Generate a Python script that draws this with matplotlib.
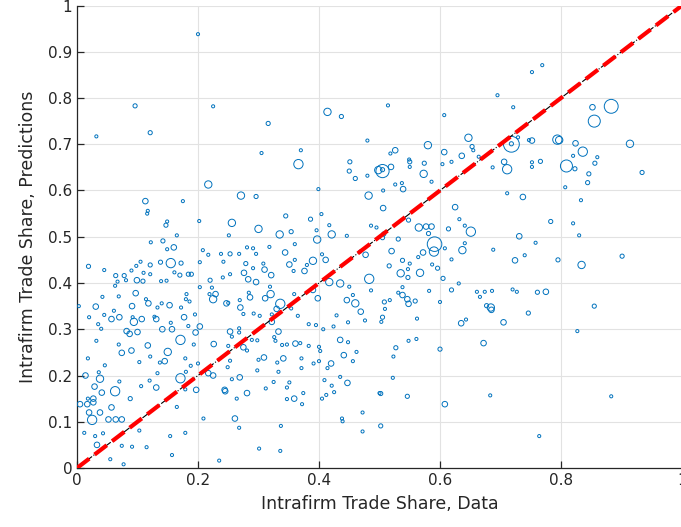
import numpy as np
import matplotlib
matplotlib.use("Agg")
import matplotlib.pyplot as plt

# intrafirm trade share: data (x) vs model predictions (y), grouped by marker weight
x_w1 = [0.200, 0.225, 0.032, 0.480, 0.305, 0.370, 0.695, 0.514, 0.721, 0.607, 0.518, 0.655, 0.729, 0.747, 0.664,
        0.549, 0.752, 0.769, 0.820, 0.860, 0.752, 0.752, 0.807, 0.833, 0.820, 0.830, 0.758, 0.740, 0.827, 0.883,
        0.764, 0.503, 0.562, 0.643, 0.548, 0.561, 0.523, 0.522, 0.683, 0.550, 0.604, 0.619, 0.687, 0.526, 0.537,
        0.506, 0.586, 0.711, 0.632, 0.641, 0.495, 0.641, 0.608, 0.564, 0.688, 0.550, 0.587, 0.619, 0.547, 0.631,
        0.538, 0.582, 0.531, 0.517, 0.600, 0.509, 0.661, 0.674, 0.686, 0.666, 0.720, 0.727, 0.480, 0.399, 0.404,
        0.417, 0.396, 0.486, 0.446, 0.251, 0.360, 0.318, 0.291, 0.281, 0.268, 0.296, 0.405, 0.360, 0.308, 0.291,
        0.380, 0.358, 0.253, 0.319, 0.450, 0.468, 0.486, 0.456, 0.284, 0.269, 0.359, 0.354, 0.250, 0.175, 0.117,
        0.116, 0.149, 0.202, 0.165, 0.122, 0.149, 0.208, 0.217, 0.238, 0.242, 0.203, 0.105, 0.098, 0.090, 0.045,
        0.081, 0.067, 0.110, 0.121, 0.139, 0.148, 0.161, 0.241, 0.063, 0.203, 0.223, 0.219, 0.181, 0.042, 0.069,
        0.114, 0.180, 0.186, 0.140, 0.003, 0.133, 0.172, 0.061, 0.020, 0.045, 0.092, 0.128, 0.195, 0.155, 0.035,
        0.040, 0.184, 0.032, 0.069, 0.018, 0.121, 0.137, 0.103, 0.179, 0.200, 0.193, 0.046, 0.036, 0.133, 0.070,
        0.120, 0.180, 0.188, 0.106, 0.179, 0.018, 0.165, 0.209, 0.012, 0.030, 0.043, 0.103, 0.154, 0.179, 0.074,
        0.091, 0.115, 0.157, 0.055, 0.077, 0.235, 0.429, 0.476, 0.448, 0.424, 0.395, 0.383, 0.407, 0.448, 0.400,
        0.402, 0.383, 0.347, 0.339, 0.369, 0.462, 0.456, 0.414, 0.400, 0.391, 0.371, 0.371, 0.331, 0.300, 0.333,
        0.298, 0.435, 0.421, 0.412, 0.425, 0.405, 0.438, 0.439, 0.472, 0.472, 0.409, 0.351, 0.347, 0.374, 0.347,
        0.372, 0.325, 0.312, 0.264, 0.268, 0.337, 0.301, 0.336, 0.256, 0.326, 0.328, 0.298, 0.281, 0.289, 0.268,
        0.256, 0.250, 0.253, 0.249, 0.275, 0.292, 0.302, 0.322, 0.365, 0.268, 0.500]
y_w1 = [0.938, 0.782, 0.717, 0.708, 0.681, 0.687, 0.806, 0.784, 0.780, 0.763, 0.680, 0.687, 0.715, 0.709, 0.673,
        0.667, 0.856, 0.871, 0.675, 0.672, 0.661, 0.651, 0.607, 0.579, 0.529, 0.503, 0.487, 0.460, 0.296, 0.155,
        0.069, 0.316, 0.323, 0.321, 0.275, 0.279, 0.241, 0.195, 0.157, 0.651, 0.657, 0.662, 0.650, 0.613, 0.616,
        0.600, 0.619, 0.594, 0.538, 0.524, 0.520, 0.486, 0.475, 0.456, 0.472, 0.442, 0.440, 0.451, 0.430, 0.399,
        0.391, 0.383, 0.379, 0.363, 0.359, 0.344, 0.381, 0.381, 0.383, 0.370, 0.386, 0.381, 0.632, 0.603, 0.549,
        0.525, 0.514, 0.524, 0.502, 0.503, 0.484, 0.478, 0.475, 0.477, 0.463, 0.463, 0.462, 0.450, 0.442, 0.432,
        0.439, 0.426, 0.419, 0.392, 0.392, 0.468, 0.384, 0.374, 0.379, 0.363, 0.376, 0.345, 0.357, 0.577, 0.556,
        0.550, 0.533, 0.534, 0.503, 0.488, 0.473, 0.471, 0.461, 0.463, 0.446, 0.445, 0.446, 0.437, 0.427, 0.428,
        0.406, 0.403, 0.422, 0.419, 0.404, 0.405, 0.423, 0.412, 0.394, 0.391, 0.390, 0.376, 0.376, 0.370, 0.371,
        0.365, 0.365, 0.360, 0.356, 0.350, 0.347, 0.347, 0.340, 0.326, 0.331, 0.326, 0.327, 0.332, 0.314, 0.311,
        0.301, 0.307, 0.275, 0.267, 0.237, 0.241, 0.228, 0.229, 0.237, 0.226, 0.267, 0.222, 0.207, 0.205, 0.187,
        0.189, 0.208, 0.221, 0.177, 0.170, 0.150, 0.132, 0.107, 0.076, 0.069, 0.075, 0.081, 0.069, 0.076, 0.048,
        0.046, 0.045, 0.028, 0.019, 0.008, 0.016, 0.330, 0.319, 0.315, 0.306, 0.309, 0.311, 0.300, 0.272, 0.262,
        0.253, 0.264, 0.267, 0.266, 0.270, 0.251, 0.231, 0.216, 0.231, 0.226, 0.237, 0.216, 0.228, 0.234, 0.208,
        0.211, 0.197, 0.178, 0.158, 0.164, 0.150, 0.107, 0.101, 0.120, 0.079, 0.190, 0.185, 0.174, 0.162, 0.149,
        0.138, 0.186, 0.172, 0.150, 0.087, 0.091, 0.042, 0.037, 0.192, 0.283, 0.275, 0.276, 0.254, 0.277, 0.293,
        0.284, 0.264, 0.232, 0.218, 0.333, 0.334, 0.329, 0.332, 0.329, 0.302, 0.162]

x_w2 = [0.096, 0.121, 0.437, 0.316, 0.653, 0.718, 0.766, 0.823, 0.856, 0.846, 0.844, 0.934, 0.783, 0.795, 0.901,
        0.761, 0.855, 0.746, 0.505, 0.527, 0.600, 0.502, 0.546, 0.502, 0.505, 0.550, 0.574, 0.548, 0.581, 0.614,
        0.507, 0.505, 0.531, 0.538, 0.516, 0.596, 0.547, 0.605, 0.619, 0.559, 0.508, 0.677, 0.451, 0.450, 0.460,
        0.296, 0.345, 0.386, 0.354, 0.253, 0.279, 0.147, 0.142, 0.172, 0.138, 0.121, 0.019, 0.064, 0.078, 0.109,
        0.170, 0.184, 0.189, 0.220, 0.088]
y_w2 = [0.783, 0.725, 0.760, 0.745, 0.695, 0.701, 0.663, 0.647, 0.659, 0.636, 0.617, 0.639, 0.533, 0.450, 0.458,
        0.380, 0.350, 0.335, 0.326, 0.260, 0.257, 0.161, 0.155, 0.091, 0.645, 0.662, 0.659, 0.536, 0.507, 0.517,
        0.506, 0.498, 0.495, 0.449, 0.437, 0.432, 0.412, 0.410, 0.385, 0.361, 0.359, 0.351, 0.662, 0.642, 0.626,
        0.587, 0.545, 0.538, 0.511, 0.463, 0.442, 0.525, 0.491, 0.443, 0.445, 0.439, 0.436, 0.416, 0.416, 0.404,
        0.417, 0.419, 0.419, 0.406, 0.150]

x_w3 = [0.526, 0.607, 0.636, 0.752, 0.852, 0.824, 0.775, 0.685, 0.635, 0.705, 0.672, 0.608, 0.519, 0.706, 0.539,
        0.737, 0.506, 0.625, 0.577, 0.586, 0.731, 0.572, 0.520, 0.724, 0.538, 0.546, 0.548, 0.344, 0.411, 0.351,
        0.310, 0.376, 0.321, 0.276, 0.283, 0.296, 0.390, 0.477, 0.311, 0.286, 0.398, 0.446, 0.469, 0.270, 0.330,
        0.113, 0.160, 0.099, 0.229, 0.097, 0.118, 0.153, 0.031, 0.091, 0.247, 0.057, 0.070, 0.107, 0.131, 0.177,
        0.082, 0.087, 0.100, 0.141, 0.157, 0.196, 0.203, 0.117, 0.090, 0.074, 0.145, 0.014, 0.029, 0.131, 0.041,
        0.197, 0.027, 0.005, 0.017, 0.027, 0.057, 0.020, 0.038, 0.052, 0.064, 0.074, 0.033, 0.244, 0.226, 0.217,
        0.225, 0.435, 0.361, 0.441, 0.420, 0.341, 0.309, 0.447, 0.359, 0.281, 0.261, 0.269, 0.245, 0.322, 0.333,
        0.275, 0.253]
y_w3 = [0.687, 0.683, 0.675, 0.708, 0.780, 0.702, 0.381, 0.342, 0.313, 0.315, 0.270, 0.138, 0.651, 0.662, 0.603,
        0.586, 0.562, 0.564, 0.522, 0.522, 0.501, 0.466, 0.469, 0.449, 0.374, 0.365, 0.355, 0.466, 0.450, 0.440,
        0.429, 0.426, 0.417, 0.422, 0.408, 0.402, 0.385, 0.461, 0.367, 0.369, 0.367, 0.363, 0.338, 0.347, 0.344,
        0.577, 0.477, 0.406, 0.376, 0.378, 0.356, 0.352, 0.349, 0.350, 0.356, 0.322, 0.326, 0.322, 0.322, 0.326,
        0.296, 0.290, 0.294, 0.300, 0.300, 0.293, 0.306, 0.265, 0.254, 0.249, 0.231, 0.200, 0.176, 0.174, 0.163,
        0.169, 0.150, 0.138, 0.138, 0.142, 0.131, 0.120, 0.120, 0.105, 0.105, 0.105, 0.050, 0.169, 0.268, 0.205,
        0.200, 0.277, 0.269, 0.244, 0.226, 0.237, 0.239, 0.184, 0.150, 0.162, 0.107, 0.196, 0.166, 0.316, 0.295,
        0.261, 0.295]

x_w4 = [0.414, 0.647, 0.580, 0.797, 0.914, 0.834, 0.573, 0.565, 0.637, 0.535, 0.567, 0.684, 0.498, 0.271, 0.482,
        0.256, 0.300, 0.335, 0.421, 0.397, 0.390, 0.435, 0.417, 0.320, 0.460, 0.217, 0.225, 0.094, 0.150, 0.038]
y_w4 = [0.770, 0.714, 0.698, 0.709, 0.701, 0.439, 0.636, 0.520, 0.471, 0.421, 0.422, 0.347, 0.644, 0.589, 0.589,
        0.530, 0.517, 0.505, 0.505, 0.494, 0.448, 0.399, 0.402, 0.376, 0.356, 0.613, 0.365, 0.316, 0.251, 0.193]

x_w5 = [0.794, 0.836, 0.711, 0.651, 0.590, 0.366, 0.483, 0.336, 0.155, 0.171, 0.171, 0.063, 0.025]
y_w5 = [0.710, 0.684, 0.646, 0.511, 0.468, 0.657, 0.409, 0.355, 0.443, 0.277, 0.194, 0.166, 0.104]

# the largest trade flows
x_big = [0.718, 0.883, 0.855, 0.809, 0.505, 0.591]
y_big = [0.700, 0.782, 0.750, 0.653, 0.642, 0.484]
w_big = [130, 100, 75, 75, 90, 110]

blue = '#0072BD'
dark = '#262626'

fig = plt.figure(figsize=(6.81, 5.27), dpi=100)
ax = fig.add_axes([77/681, 59/527, 605/681, 462.5/527])

groups = [(x_w1, y_w1, 5), (x_w2, y_w2, 9), (x_w3, y_w3, 16), (x_w4, y_w4, 28), (x_w5, y_w5, 45)]
for gx, gy, s in groups:
    ax.scatter(gx, gy, s=s, facecolors='none', edgecolors=blue, linewidths=0.7, zorder=3)
ax.scatter(x_big, y_big, s=w_big, facecolors='none', edgecolors=blue, linewidths=0.7, zorder=3)

# 45 degree reference lines
diag = np.array([0, 1])
ax.plot(diag, diag, color='black', lw=0.8, ls='-.', zorder=4)
ax.plot(diag, diag, color='red', lw=3, ls='--', zorder=5)

ax.set_xlim(0, 1)
ax.set_ylim(0, 1)
ax.set_xticks(np.arange(0, 1.01, 0.2))
ax.set_yticks(np.arange(0, 1.01, 0.1))
ax.set_xticklabels(['0', '0.2', '0.4', '0.6', '0.8', '1'])
ax.set_yticklabels(['0', '0.1', '0.2', '0.3', '0.4', '0.5', '0.6', '0.7', '0.8', '0.9', '1'])
ax.grid(True, color='#e2e2e2', lw=0.8)
ax.set_axisbelow(True)
for side in ['top', 'right']:
    ax.spines[side].set_visible(False)
for side in ['left', 'bottom']:
    ax.spines[side].set_color(dark)
    ax.spines[side].set_linewidth(0.9)
ax.tick_params(direction='in', length=5, width=0.9, color=dark, labelcolor=dark, labelsize=11)

ax.set_xlabel('Intrafirm Trade Share, Data', fontsize=12.5, color=dark, labelpad=5)
ax.set_ylabel('Intrafirm Trade Share, Predictions', fontsize=12.5, color=dark, labelpad=8)

fig.savefig('out.png', dpi=100)
